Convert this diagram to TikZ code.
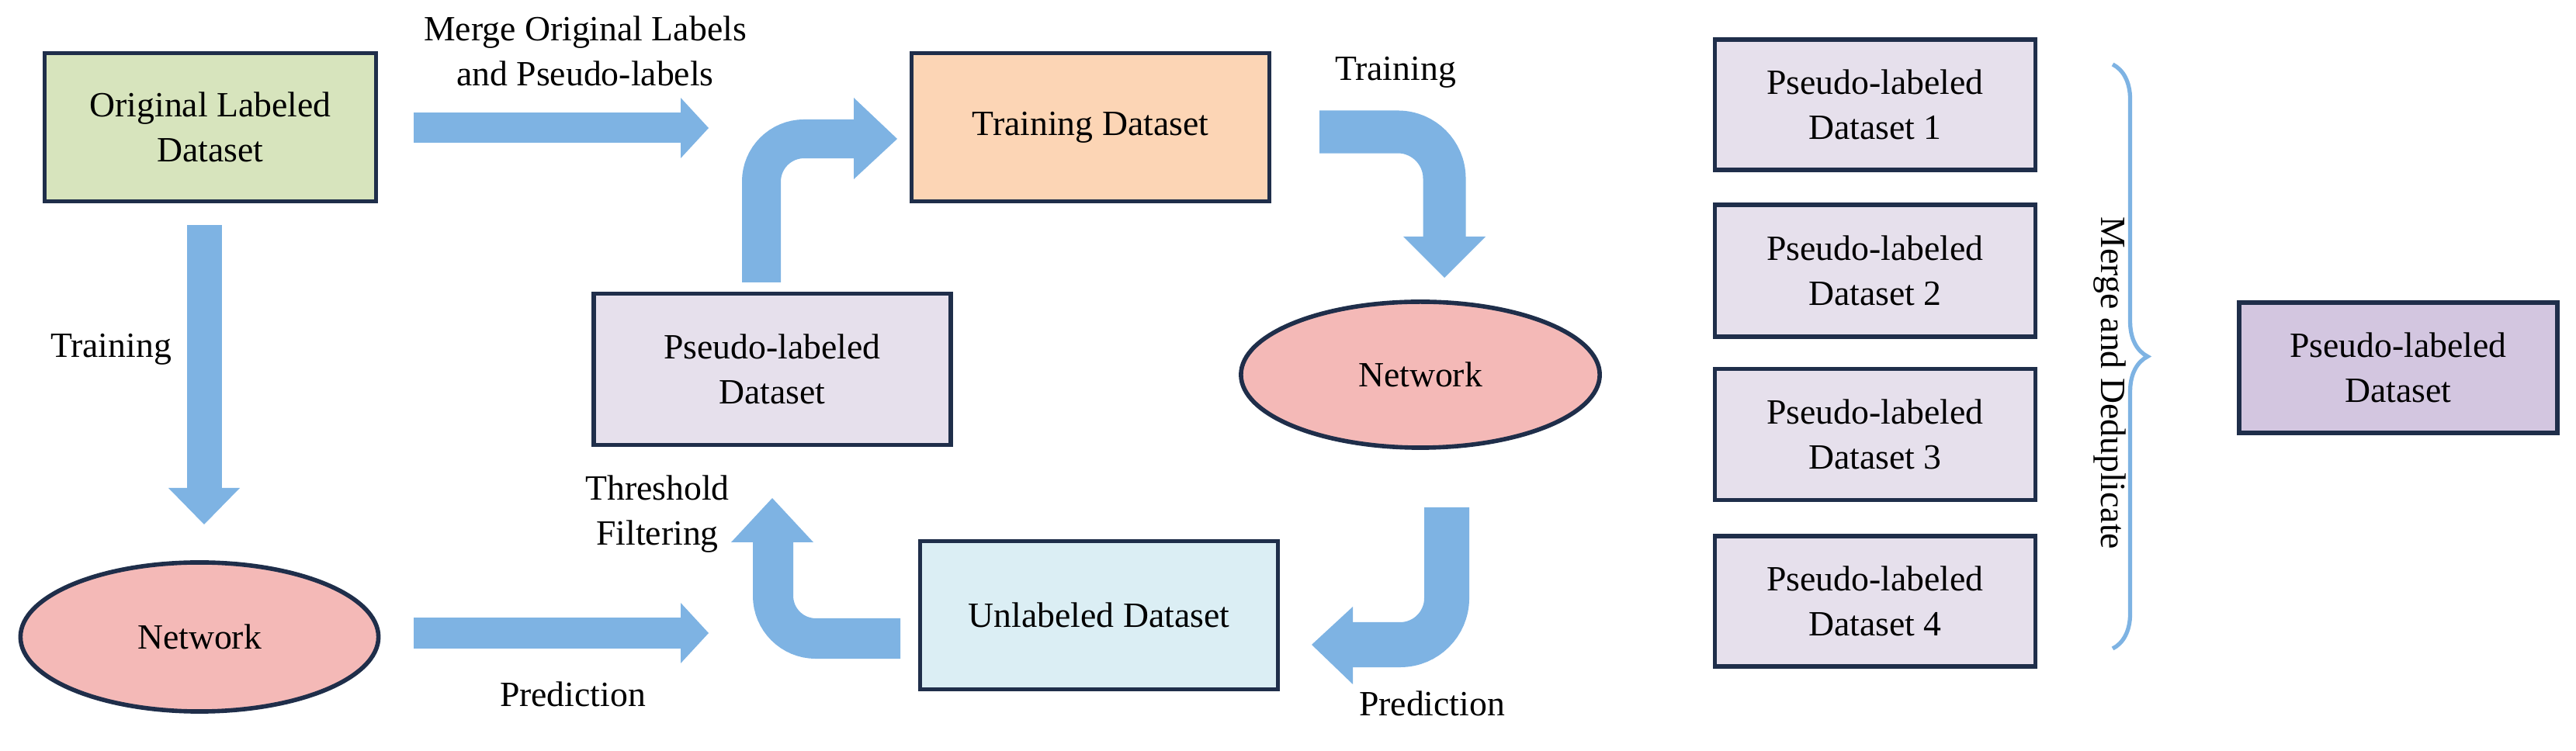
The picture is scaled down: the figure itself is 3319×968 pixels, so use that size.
\documentclass[tikz,border=0pt]{standalone}
\usepackage{fontspec}
\setmainfont{Liberation Serif}
\usetikzlibrary{shapes.geometric,decorations.pathreplacing}
\definecolor{arr}{HTML}{7EB3E3}
\definecolor{bd}{HTML}{1F2E4A}
\definecolor{cgreen}{HTML}{D7E4BD}
\definecolor{corange}{HTML}{FCD5B5}
\definecolor{clav}{HTML}{E6E0EC}
\definecolor{cpink}{HTML}{F4B9B7}
\definecolor{cblue}{HTML}{DBEEF4}
\definecolor{cpurp}{HTML}{D3C6E0}
\begin{document}
\begin{tikzpicture}[x=0.01cm,y=-0.01cm,
  every node/.style={font=\fontsize{13pt}{16.5pt}\selectfont, align=center},
  box/.style={draw=bd, line width=1.6pt, inner sep=0pt},
  ell/.style={ellipse, draw=bd, line width=1.6pt, fill=cpink, inner sep=0pt},
  fat/.style={draw=arr, line cap=butt, line join=miter},
  lbl/.style={}]
\useasboundingbox (0,0) rectangle (3319,968);
% nodes
\node[box, fill=cgreen, minimum width=4.27cm, minimum height=1.91cm] (old) at (271,164) {Original Labeled\\Dataset};
\node[box, fill=corange, minimum width=4.61cm, minimum height=1.91cm] (train) at (1405,164) {Training Dataset};
\node[box, fill=clav, minimum width=4.60cm, minimum height=1.95cm] (pld) at (995,476) {Pseudo-labeled\\Dataset};
\node[box, fill=cblue, minimum width=4.61cm, minimum height=1.91cm] (unl) at (1416,793) {Unlabeled Dataset};
\node[ell, minimum width=4.61cm, minimum height=1.92cm] (net1) at (257,821) {Network};
\node[ell, minimum width=4.62cm, minimum height=1.88cm] (net2) at (1830,483) {Network};
\node[box, fill=clav, minimum width=4.13cm, minimum height=1.68cm] (p1) at (2416,135) {Pseudo-labeled\\Dataset 1};
\node[box, fill=clav, minimum width=4.13cm, minimum height=1.70cm] (p2) at (2416,349) {Pseudo-labeled\\Dataset 2};
\node[box, fill=clav, minimum width=4.13cm, minimum height=1.69cm] (p3) at (2416,560) {Pseudo-labeled\\Dataset 3};
\node[box, fill=clav, minimum width=4.13cm, minimum height=1.68cm] (p4) at (2416,775) {Pseudo-labeled\\Dataset 4};
\node[box, fill=cpurp, minimum width=4.10cm, minimum height=1.68cm] (fin) at (3090,474) {Pseudo-labeled\\Dataset};
% labels
\node (lmerge) at (754,66) {Merge Original Labels\\and Pseudo-labels};
\node (ltr1) at (143,450) {Training};
\node (lpr1) at (738,895) {Prediction};
\node (lthr) at (847,663) {Threshold\\Filtering};
\node (ltr2) at (1798,93) {Training};
\node (lpr2) at (1845,907) {Prediction};
\node[rotate=-90] (lmd) at (2718,494) {Merge and Deduplicate};
% straight fat arrows
\fill[arr] (241,290) rectangle (286,629);
\fill[arr] (217,629) -- (309,629) -- (263,676) -- cycle;
\fill[arr] (533,145) rectangle (877,184);
\fill[arr] (877,126) -- (877,204) -- (913,165) -- cycle;
\fill[arr] (533,796) rectangle (877,836);
\fill[arr] (877,777) -- (877,855) -- (913,816) -- cycle;
% bent fat arrows
\draw[fat, line width=0.5cm, rounded corners=0.55cm] (981,364) -- (981,179) -- (1102,179);
\fill[arr] (1100,126) -- (1100,231) -- (1156,179) -- cycle;
\draw[fat, line width=0.52cm, rounded corners=0.55cm] (1160,823) -- (996,823) -- (996,699);
\fill[arr] (942,699) -- (1048,699) -- (995,642) -- cycle;
\draw[fat, line width=0.55cm, rounded corners=0.6cm] (1700,170) -- (1861,170) -- (1861,307);
\fill[arr] (1808,305) -- (1914,305) -- (1861,358) -- cycle;
\draw[fat, line width=0.58cm, rounded corners=0.6cm] (1864,654) -- (1864,831) -- (1741,831);
\fill[arr] (1743,782) -- (1743,882) -- (1690,831) -- cycle;
% brace
\draw[arr, line width=1.5pt, decorate, decoration={brace, amplitude=0.45cm, aspect=0.5}] (2722,83) -- (2722,836);
\end{tikzpicture}
\end{document}
